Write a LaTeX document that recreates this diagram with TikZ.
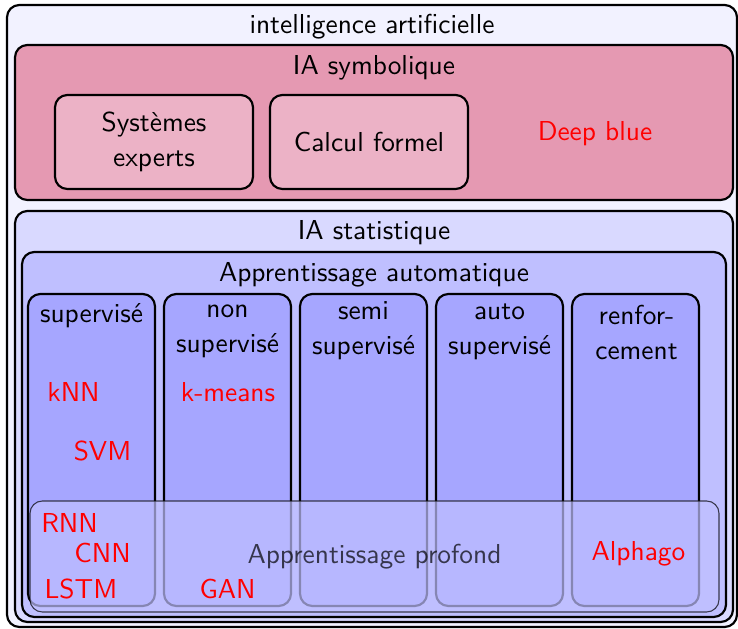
\documentclass[tikz,border=0pt]{standalone}
\usepackage{xcolor}
\usepackage{tikz}
\usetikzlibrary{fit,positioning}
\tikzset{box/.style={draw, thick, rounded corners=4.5pt, inner sep=0pt}}
\tikzset{ia-box/.style={box, fill=blue!5}}
\tikzset{sym-box/.style={box, fill=purple!40}}
\tikzset{sym-item/.style={box, fill=purple!30}}
\tikzset{stat-box/.style={box, fill=blue!15}}
\tikzset{ml-box/.style={box, fill=blue!25}}
\tikzset{ml-col/.style={box, fill=blue!35}}
\tikzset{deep-box/.style={draw, rounded corners=4.5pt, inner sep=0pt, fill=blue!25, opacity=0.7}}
\tikzset{box-title/.style={anchor=north, inner sep=0pt}}
\tikzset{box-text/.style={inner sep=0pt, align=center}}
\tikzset{algo/.style={text=red, inner sep=0pt}}

\begin{document}
\begin{tikzpicture}[x=0.365pt, y=-0.365pt, font={\fontsize{10}{12.8}\selectfont\sffamily}]
    \useasboundingbox (0,0) rectangle (738,629);

    % outer box
    \node[ia-box, fit={(7,5) (737,627)}] (ia) {};
    \node[box-title] (iatitle) at ([yshift=-3.6pt]ia.north) {intelligence artificielle};

    % symbolic AI
    \node[sym-box, fit={(15,45) (733,200)}] (symb) {};
    \node[box-title] (symbtitle) at ([yshift=-4.2pt]symb.north) {IA symbolique};
    \node[sym-item, fit={(55,95) (253,189)}] (experts) {};
    \node[sym-item, fit={(270,95) (468,189)}] (calcul) {};
    \node[box-text] (expertstxt) at (experts.center) {Systèmes\\experts};
    \node[box-text] (calcultxt) at (calcul.center) {Calcul formel};
    \node[algo] (deepblue) at (595,134) {Deep blue};

    % statistical AI
    \node[stat-box, fit={(15,211) (733,622)}] (stat) {};
    \node[box-title] (stattitle) at ([yshift=-3.7pt]stat.north) {IA statistique};
    \node[ml-box, fit={(22,252) (726,617)}] (ml) {};
    \node[box-title] (mltitle) at ([yshift=-4pt]ml.north) {Apprentissage automatique};

    \node[ml-col, fit={(28,294) (155,606)}] (colsup) {};
    \node[ml-col, fit={(164,294) (291,606)}] (colnonsup) {};
    \node[ml-col, fit={(300,294) (427,606)}] (colsemi) {};
    \node[ml-col, fit={(436,294) (563,606)}] (colauto) {};
    \node[ml-col, fit={(572,294) (699,606)}] (colrenf) {};

    \node[box-text] (supt) at (91.5,316) {supervisé};
    \node[box-text] (nonsupt) at (227.5,331) {non\\supervisé};
    \node[box-text] (semit) at (363.5,330.5) {semi\\supervisé};
    \node[box-text] (autot) at (499.5,332) {auto\\supervisé};
    \node[box-text] (renft) at (636.5,332.5) {renfor-\\cement};

    \node[algo] (knn) at (73.5,392) {kNN};
    \node[algo] (kmeans) at (228,392) {k-means};
    \node[algo] (svm) at (102.5,450.5) {SVM};

    % deep learning, drawn over the columns
    \node[deep-box, fit={(30,501) (719,612)}] (deep) {};
    \node[box-text, opacity=0.7] (deeptxt) at (deep.center) {Apprentissage profond};

    \node[algo] (rnn) at (69.5,523) {RNN};
    \node[algo] (cnn) at (102.5,553) {CNN};
    \node[algo] (lstm) at (81,589) {LSTM};
    \node[algo] (gan) at (227.5,589) {GAN};
    \node[algo] (alphago) at (638.5,553.5) {Alphago};
\end{tikzpicture}
\end{document}
